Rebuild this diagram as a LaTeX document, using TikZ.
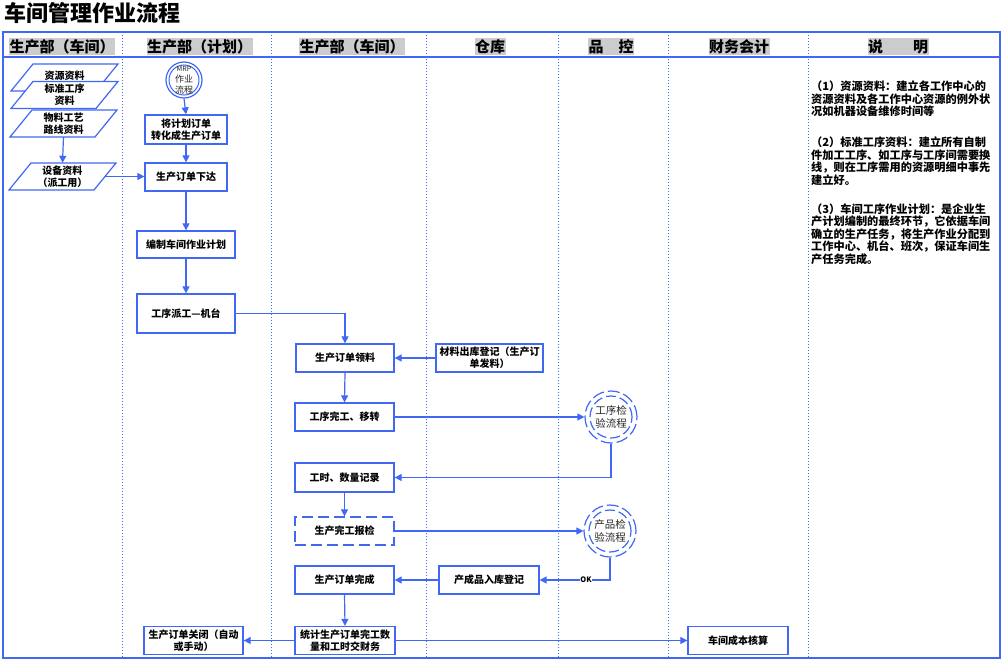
\documentclass[tikz,border=0pt]{standalone}
\usepackage{fontspec}
\setmainfont{Noto Sans CJK SC}
\usetikzlibrary{arrows.meta}
\definecolor{ln}{RGB}{64,104,245}
\definecolor{hdr}{RGB}{204,204,204}
\newcommand\pgshape[2]{\filldraw[pgline] ({#1-31.5},{#2-13.5}) -- ({#1+53.5},{#2-13.5}) -- ({#1+31.5},{#2+13.5}) -- ({#1-53.5},{#2+13.5}) -- cycle;}
\begin{document}
\begin{tikzpicture}[x=1pt,y=-1pt,
 conn/.style={draw=ln, line width=1.2pt},
 arr/.style={conn, -{Triangle[length=7pt,width=7pt]}},
 box/.style={draw=ln, line width=1.3pt, fill=white, inner sep=1pt, align=center, font=\bfseries\fontsize{10}{12}\selectfont, text=black},
 dbox/.style={box, dash pattern=on 11pt off 5pt},
 pgline/.style={draw=ln, line width=1.2pt, fill=white},
 pgtxt/.style={inner sep=0pt, minimum width=85pt, minimum height=27pt, align=center, font=\bfseries\fontsize{10}{12}\selectfont},
 hd/.style={fill=hdr, inner xsep=0.5pt, inner ysep=1.3pt, font=\bfseries\fontsize{15}{15}\selectfont},
 note/.style={anchor=north west, inner sep=0pt, align=left, font=\bfseries\fontsize{11.2}{12.5}\selectfont},
 circ/.style={circle, draw=ln, line width=1.2pt, fill=white, inner sep=0pt, align=center, text=black!85},
 divider/.style={draw=ln, line width=0.8pt, dash pattern=on 1pt off 2pt},
]
\useasboundingbox (0,0) rectangle (1004,661);
% frame
\foreach \x in {122,271,426,558,668,808} \draw[divider] (\x,32) -- (\x,658);
\draw[ln, line width=1.5pt] (3,32) rectangle (1000,658);
\draw[ln, line width=2pt] (3,57) -- (1000,57);
% title
\node[anchor=west, inner sep=0pt, font=\bfseries\fontsize{22}{22}\selectfont] (title) at (4,13) {车间管理作业流程};
% headers
\node[hd] (h1) at (62,46.5) {生产部（车间）};
\node[hd] (h2) at (199.5,46.5) {生产部（计划）};
\node[hd] (h3) at (352,46.5) {生产部（车间）};
\node[hd] (h4) at (490,46.5) {仓库};
\node[hd] (h5) at (611,46.5) {品　控};
\node[hd] (h6) at (739,46.5) {财务会计};
\node[hd] (h7) at (898,46.5) {说　　明};
% parallelograms
\pgshape{64.5}{77.5}
\node[pgtxt, minimum height=0pt] (p1) at (64.5,76) {资源资料};
\pgshape{64.5}{95}
\node[pgtxt] (p2) at (64.5,94.5) {标准工序\\资料};
\pgshape{63.5}{123.5}
\node[pgtxt] (p3) at (63.5,123.5) {物料工艺\\路线资料};
\pgshape{62.5}{176.5}
\node[pgtxt] (p4) at (62.5,176.5) {设备资料\\（派工用）};
% MRP circle
\node[circ, minimum size=36pt, font=\fontsize{9}{11}\selectfont,
  path picture={\draw[ln, line width=1pt] (path picture bounding box.center) circle[radius=15pt];}]
  (c0) at (184,80) {{\fontsize{7}{11}\selectfont MRP}\\作业\\流程};
% boxes
\node[box, minimum width=82pt, minimum height=29pt] (b1) at (186,129.5) {将计划订单\\转化成生产订单};
\node[box, minimum width=82pt, minimum height=28pt] (b2) at (186,177) {生产订单下达};
\node[box, minimum width=98pt, minimum height=27pt] (b3) at (186,244.5) {编制车间作业计划};
\node[box, minimum width=98pt, minimum height=39pt] (b4) at (186,313.5) {工序派工—机台};
\node[box, minimum width=98pt, minimum height=28pt] (b5) at (345,358) {生产订单领料};
\node[box, minimum width=107pt, minimum height=28pt] (b6) at (489.5,358) {材料出库登记（生产订\\单发料）};
\node[box, minimum width=99pt, minimum height=28pt] (b7) at (344.5,417) {工序完工、移转};
\node[box, minimum width=99pt, minimum height=29pt] (b8) at (344.5,477.5) {工时、数量记录};
\node[dbox, minimum width=99pt, minimum height=28pt] (b9) at (344.5,531) {生产完工报检};
\node[box, minimum width=99pt, minimum height=28pt] (b10) at (344.5,580) {生产订单完成};
\node[box, minimum width=100pt, minimum height=28pt] (b11) at (489,580) {产成品入库登记};
\node[box, minimum width=100pt, minimum height=28pt] (b12) at (345,640.5) {统计生产订单完工数\\量和工时交财务};
\node[box, minimum width=99pt, minimum height=28pt] (b13) at (193.5,640.5) {生产订单关闭（自动\\或手动）};
\node[box, minimum width=100pt, minimum height=28pt] (b14) at (738,640.5) {车间成本核算};
% dashed circles
\node[circ, minimum size=52pt, dash pattern=on 12pt off 4pt, font=\fontsize{10.5}{12.5}\selectfont,
  path picture={\draw[ln, line width=1.2pt, dash pattern=on 10pt off 4pt] (path picture bounding box.center) circle[radius=21pt];}]
  (c1) at (611,417) {工序检\\验流程};
\node[circ, minimum size=52pt, dash pattern=on 12pt off 4pt, font=\fontsize{10.5}{12.5}\selectfont,
  path picture={\draw[ln, line width=1.2pt, dash pattern=on 10pt off 4pt] (path picture bounding box.center) circle[radius=21pt];}]
  (c2) at (610,531) {产品检\\验流程};
% connectors
\draw[arr] (c0.south) -- (b1.north);
\draw[arr] (b1.south) -- (b2.north);
\draw[arr] (p3.south) -- (p4.north);
\draw[arr] (p4.east) -- (p4.east -| b2.west);
\draw[arr] (b2.south) -- (b3.north);
\draw[arr] (b3.south) -- (b4.north);
\draw[arr] (b4.east) -| (b5.north);
\draw[arr] (b6.west) -- (b5.east);
\draw[arr] (b5.south) -- (b7.north);
\draw[arr] (b7.east) -- (c1.west);
\draw[arr] (c1.south) |- (b8.east);
\draw[arr] (b8.south) -- (b9.north);
\draw[arr] (b9.east) -- (c2.west);
\draw[arr] (c2.south) |- (b11.east);
\node[fill=white, inner sep=0.5pt, font=\bfseries\fontsize{7.5}{8}\selectfont] (ok) at (586,580) {OK};
\draw[arr] (b11.west) -- (b10.east);
\draw[arr] (b10.south) -- (b12.north);
\draw[arr] (b12.west) -- (b13.east);
\draw[arr] (b12.east) -- (b14.west);
% notes
\node[note] (n1) at (811,81) {（1）资源资料：建立各工作中心的\\资源资料及各工作中心资源的例外状\\况如机器设备维修时间等};
\node[note] (n2) at (811,137) {（2）标准工序资料：建立所有自制\\件加工工序、如工序与工序间需要换\\线，则在工序需用的资源明细中事先\\建立好。};
\node[note] (n3) at (811,203.5) {（3）车间工序作业计划：是企业生\\产计划编制的最终环节，它依据车间\\确立的生产任务，将生产作业分配到\\工作中心、机台、班次，保证车间生\\产任务完成。};
\end{tikzpicture}
\end{document}
